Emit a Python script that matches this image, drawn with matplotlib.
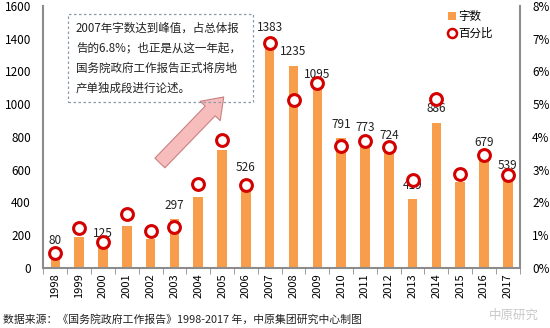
import matplotlib
matplotlib.use("Agg")
import matplotlib.pyplot as plt
import numpy as np
from matplotlib.patches import Rectangle, Patch
from matplotlib.lines import Line2D

plt.rcParams['font.family'] = ['Noto Sans CJK SC', 'DejaVu Sans']

years = [str(y) for y in range(1998, 2018)]
word_counts = [80, 188, 125, 256, 175, 297, 435, 720, 526, 1383,
               1235, 1095, 791, 773, 724, 419, 886, 527, 679, 539]
percent = [0.45, 1.21, 0.78, 1.64, 1.13, 1.24, 2.56, 3.90, 2.52, 6.86,
           5.13, 5.64, 3.73, 3.89, 3.70, 2.69, 5.16, 2.87, 3.45, 2.84]
labeled_years = ['1998', '2000', '2003', '2006', '2007', '2008', '2009', '2010',
                 '2011', '2012', '2013', '2014', '2016', '2017']
left_ticks = [0, 200, 400, 600, 800, 1000, 1200, 1400, 1600]
right_ticks = [0, 1, 2, 3, 4, 5, 6, 7, 8]
note_lines = ["2007年字数达到峰值，占总体报",
              "告的6.8%；也正是从这一年起，",
              "国务院政府工作报告正式将房地",
              "产单独成段进行论述。"]
source_text = "数据来源：《国务院政府工作报告》1998-2017 年，中原集团研究中心制图"

bar_color = '#F79D4B'
red = '#D40000'
axis_gray = '#8C8C8C'

fig = plt.figure(figsize=(5.5, 3.28), dpi=100)
ax = fig.add_axes([0.079, 0.183, 0.866, 0.799])
ax2 = ax.twinx()

x = np.arange(len(years))
ax.bar(x, word_counts, width=0.4, color=bar_color, zorder=2)
ax.set_xlim(-0.5, len(years) - 0.5)
ax.set_ylim(0, 1600)
ax.set_yticks(left_ticks)
ax.set_yticklabels([str(v) for v in left_ticks])
ax.set_xticks(x)
ax.set_xticklabels(years, rotation=90, fontsize=8)
ax.set_xticks(np.arange(-0.5, len(years), 1), minor=True)
ax.tick_params(axis='x', which='major', length=0, pad=4)
ax.tick_params(axis='x', which='minor', length=4, color=axis_gray, direction='out')
ax.tick_params(axis='y', length=0, pad=9, labelsize=8.5)

for s in ['top', 'right']:
    ax.spines[s].set_visible(False)
for s in ['left', 'bottom']:
    ax.spines[s].set_color(axis_gray)
    ax.spines[s].set_linewidth(1.5)

for i, (y, v) in enumerate(zip(years, word_counts)):
    if y in labeled_years:
        ax.annotate(str(v), (i, v), xytext=(0, 14), textcoords='offset pixels',
                    ha='center', va='center', fontsize=8.5, color='#222222', zorder=5)

ax2.plot(x, percent, linestyle='none', marker='o', markersize=8.5,
         markerfacecolor='white', markeredgecolor=red, markeredgewidth=2.2, zorder=4)
ax2.set_ylim(0, 8)
ax2.set_yticks(right_ticks)
ax2.set_yticklabels([f"{v}%" for v in right_ticks])
ax2.tick_params(axis='y', length=0, pad=9, labelsize=8.5)
for s in ['top', 'left', 'bottom']:
    ax2.spines[s].set_visible(False)
ax2.spines['right'].set_color(axis_gray)
ax2.spines['right'].set_linewidth(1.5)

# annotation box
fig.patches.append(Rectangle((0.1236, 0.689), 0.336, 0.268, transform=fig.transFigure,
                             fill=False, edgecolor='#8899AA', linestyle=(0, (2, 2)),
                             linewidth=0.9))
for line, yy in zip(note_lines, [0.915, 0.854, 0.791, 0.732]):
    fig.text(0.138, yy, line, fontsize=8.3, va='center', ha='left', color='#222222')

# arrow
ax.annotate('', xy=(7.07, 1044), xytext=(4.39, 641),
            arrowprops=dict(arrowstyle='simple,head_length=0.7,head_width=1.0,tail_width=0.5',
                            fc='#F7BDBD', ec='#C98080', lw=0.8, mutation_scale=20,
                            shrinkA=0, shrinkB=0), zorder=6)

# legend
handles = [Patch(facecolor=bar_color, edgecolor='none'),
           Line2D([], [], linestyle='none', marker='o', markersize=6.5,
                  markerfacecolor='white', markeredgecolor=red, markeredgewidth=1.8)]
fig.legend(handles, ['字数', '百分比'], loc='upper right', bbox_to_anchor=(0.915, 1.0),
           frameon=False, fontsize=8.3, handlelength=0.7, handleheight=0.7,
           handletextpad=0.2, labelspacing=0.3)

fig.text(0.005, 0.025, source_text, fontsize=7.8, ha='left', va='center', color='#222222')
fig.text(0.935, 0.04, "中原研究", fontsize=9, ha='center', va='center', color='#C8C8C8')

fig.savefig('out.png', dpi=100)
